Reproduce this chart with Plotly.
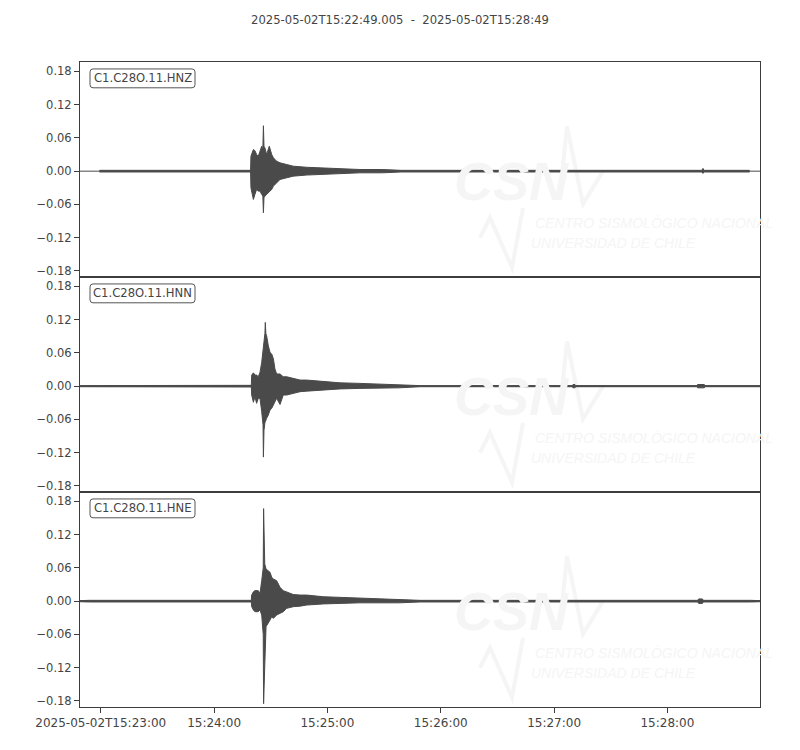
import pandas as pd
import plotly.graph_objects as go

# ---------------- data (envelopes) ----------------
START = "2025-05-02 15:22:49.005"
END = "2025-05-02 15:28:49"
title_text = "2025-05-02T15:22:49.005  -  2025-05-02T15:28:49"
channels = ["C1.C28O.11.HNZ", "C1.C28O.11.HNN", "C1.C28O.11.HNE"]

# seconds after START, upper / lower envelope of ground acceleration
t_hnz = [10.3, 90.3, 90.5, 91.8, 92.6, 93.5, 94.4, 95.3, 96.2, 96.8, 97.1, 97.4, 97.9, 98.8,
         100.2, 101.5, 102.4, 104.1, 105.9, 109.4, 112.9, 120.0, 128.8, 137.6, 148.2, 160.0,
         170.0, 329.3, 329.8, 330.3, 354.5]
up_hnz = [0.0015, 0.0015, 0.027, 0.039, 0.037, 0.030, 0.027, 0.036, 0.045, 0.040, 0.082, 0.045, 0.042, 0.030,
          0.045, 0.030, 0.024, 0.018, 0.015, 0.012, 0.009, 0.007, 0.006, 0.004, 0.003, 0.003,
          0.0015, 0.0015, 0.005, 0.0015, 0.0015]
lo_hnz = [-0.0015, -0.0015, -0.030, -0.051, -0.042, -0.033, -0.036, -0.036, -0.042, -0.045, -0.075, -0.048, -0.045, -0.042,
          -0.039, -0.033, -0.027, -0.021, -0.015, -0.012, -0.009, -0.007, -0.006, -0.004, -0.003, -0.003,
          -0.0015, -0.0015, -0.004, -0.0015, -0.0015]

t_hnn = [0.0, 90.7, 90.9, 91.8, 92.6, 93.5, 94.4, 95.3, 96.2, 96.9, 97.1, 97.4, 97.9, 98.1, 98.4, 98.8,
         99.7, 100.6, 101.5, 102.4, 103.2, 104.1, 105.9, 107.6, 109.4, 112.9, 116.5, 120.0,
         128.8, 137.6, 148.2, 169.0, 180.0, 260.5, 261.0, 262.0, 262.5, 326.5, 327.0, 330.5, 331.0, 360.0]
up_hnn = [0.001, 0.0015, 0.020, 0.024, 0.020, 0.020, 0.017, 0.025, 0.043, 0.060, 0.067, 0.080, 0.095, 0.115, 0.095, 0.091,
          0.073, 0.061, 0.058, 0.049, 0.031, 0.022, 0.022, 0.017, 0.017, 0.014, 0.011, 0.011,
          0.008, 0.006, 0.005, 0.003, 0.001, 0.001, 0.003, 0.003, 0.001, 0.001, 0.003, 0.003, 0.001, 0.001]
lo_hnn = [-0.001, -0.0015, -0.016, -0.029, -0.019, -0.031, -0.022, -0.022, -0.046, -0.070, -0.128, -0.080, -0.066, -0.064, -0.060, -0.058,
          -0.052, -0.043, -0.040, -0.034, -0.028, -0.022, -0.033, -0.016, -0.016, -0.013, -0.010, -0.009,
          -0.007, -0.005, -0.004, -0.003, -0.001, -0.001, -0.003, -0.003, -0.001, -0.001, -0.003, -0.003, -0.001, -0.001]

t_hne = [0.0, 5.0, 90.7, 90.9, 91.8, 92.6, 94.4, 95.3, 96.2, 96.7, 97.0, 97.2, 97.5, 97.8, 98.5,
         99.7, 100.6, 101.5, 102.4, 104.1, 105.9, 107.6, 109.4, 112.9, 116.5, 120.0,
         128.8, 137.6, 148.2, 169.0, 180.0, 327.0, 327.5, 329.5, 330.0, 355.0, 360.0]
up_hne = [0.001, 0.0015, 0.0015, 0.011, 0.017, 0.019, 0.019, 0.014, 0.037, 0.049, 0.060, 0.167, 0.090, 0.067, 0.058,
          0.055, 0.052, 0.043, 0.040, 0.037, 0.025, 0.019, 0.017, 0.012, 0.011, 0.011,
          0.008, 0.007, 0.006, 0.003, 0.0015, 0.0015, 0.004, 0.004, 0.0015, 0.0015, 0.001]
lo_hne = [-0.001, -0.0015, -0.0015, -0.010, -0.016, -0.019, -0.019, -0.016, -0.025, -0.040, -0.060, -0.185, -0.130, -0.117, -0.046,
          -0.040, -0.034, -0.028, -0.031, -0.025, -0.022, -0.019, -0.013, -0.010, -0.009, -0.007,
          -0.005, -0.004, -0.003, -0.003, -0.0015, -0.0015, -0.004, -0.004, -0.0015, -0.0015, -0.001]

ytick_vals = [-0.18, -0.12, -0.06, 0.0, 0.06, 0.12, 0.18]
ytick_text = ["\u22120.18", "\u22120.12", "\u22120.06", "0.00", "0.06", "0.12", "0.18"]
xtick_times = ["2025-05-02 15:23:00", "2025-05-02 15:24:00", "2025-05-02 15:25:00",
               "2025-05-02 15:26:00", "2025-05-02 15:27:00", "2025-05-02 15:28:00"]
xtick_text = ["2025-05-02T15:23:00", "15:24:00", "15:25:00", "15:26:00", "15:27:00", "15:28:00"]

# ---------------- figure ----------------
# page has an 8px body margin; the figure is placed at (8, 8)
OFF = 8
W, H = 784, 734
ML, MT = 72, 54
PW, PH = 680, 650
MR, MB = W - ML - PW, H - MT - PH
TRACE = "#4a4a4a"
AX = "#3d3d3d"
FONT = "DejaVu Sans"
TXT = "#444444"
start = pd.Timestamp(START)

# helpers: convert page pixels (as in the reference) to paper coords
def px2x(px):
    return (px - OFF - ML) / PW

def px2y(py):
    return (OFF + MT + PH - py) / PH

series = [(t_hnz, up_hnz, lo_hnz), (t_hnn, up_hnn, lo_hnn), (t_hne, up_hne, lo_hne)]
fig = go.Figure()
shapes = []
annotations = []
panel_h = PH / 3.0
TOP = OFF + MT

for i, (tt, up, lo) in enumerate(series):
    ax = "" if i == 0 else str(i + 1)
    xs = start + pd.to_timedelta(tt, unit="s")
    fig.add_trace(go.Scatter(x=[start, pd.Timestamp(END)], y=[0, 0], mode="lines",
                             line=dict(color=TRACE, width=1), xaxis="x" + ax, yaxis="y" + ax,
                             hoverinfo="skip", showlegend=False))
    fig.add_trace(go.Scatter(x=xs, y=up, mode="lines", line=dict(color=TRACE, width=1),
                             xaxis="x" + ax, yaxis="y" + ax, showlegend=False))
    fig.add_trace(go.Scatter(x=xs, y=lo, mode="lines", line=dict(color=TRACE, width=1),
                             fill="tonexty", fillcolor=TRACE,
                             xaxis="x" + ax, yaxis="y" + ax, showlegend=False))

    top_px = TOP + i * panel_h
    # faint watermark
    wm = "#f5f5f5"
    annotations.append(dict(text="<b><i>CSN</i></b>", x=px2x(452), y=px2y(top_px + 120),
                            xref="paper", yref="paper", xanchor="left", yanchor="middle",
                            showarrow=False, font=dict(family="Liberation Sans", size=54, color=wm)))
    annotations.append(dict(text="<i>CENTRO SISMOLÓGICO NACIONAL</i>", x=px2x(533), y=px2y(top_px + 162),
                            xref="paper", yref="paper", xanchor="left", yanchor="middle",
                            showarrow=False, font=dict(family="Liberation Sans", size=14, color=wm)))
    annotations.append(dict(text="<i>UNIVERSIDAD DE CHILE</i>", x=px2x(529), y=px2y(top_px + 182),
                            xref="paper", yref="paper", xanchor="left", yanchor="middle",
                            showarrow=False, font=dict(family="Liberation Sans", size=14, color=wm)))
    for pts in ([(560, 133), (567, 65), (583, 143), (603, 110)],
                [(480, 177), (490, 157), (512, 207), (523, 147)]):
        path = "M " + " L ".join(f"{px2x(a)},{px2y(top_px + b)}" for a, b in pts)
        shapes.append(dict(type="path", path=path, xref="paper", yref="paper",
                           line=dict(color=wm, width=4), layer="below"))

    # rounded label box
    x0, x1 = px2x(90), px2x(195)
    y0, y1 = px2y(top_px + 26), px2y(top_px + 7)
    rx, ry = 3.0 / PW, 3.0 / PH
    path = (f"M {x0+rx},{y1} L {x1-rx},{y1} Q {x1},{y1} {x1},{y1-ry} L {x1},{y0+ry} "
            f"Q {x1},{y0} {x1-rx},{y0} L {x0+rx},{y0} Q {x0},{y0} {x0},{y0+ry} "
            f"L {x0},{y1-ry} Q {x0},{y1} {x0+rx},{y1} Z")
    shapes.append(dict(type="path", path=path, xref="paper", yref="paper",
                       line=dict(color="#555555", width=1), fillcolor="white"))
    annotations.append(dict(text=channels[i], x=(x0 + x1) / 2, y=(y0 + y1) / 2,
                            xref="paper", yref="paper", xanchor="center", yanchor="middle",
                            showarrow=False, font=dict(family=FONT, size=11.6, color=TXT)))

layout = dict(
    width=W, height=H, plot_bgcolor="white", paper_bgcolor="white",
    margin=dict(l=ML, r=MR, t=MT, b=MB),
    font=dict(family=FONT, size=11.5, color=TXT),
    title=dict(text=title_text, x=(400 - OFF) / W, xref="container", xanchor="center",
               y=1 - (20 - OFF) / H, yref="container", yanchor="middle",
               font=dict(family=FONT, size=11.6, color=TXT)),
    shapes=shapes, annotations=annotations, showlegend=False,
)

for i in range(3):
    ax = "" if i == 0 else str(i + 1)
    d0 = 1 - (i + 1) / 3.0
    d1 = 1 - i / 3.0
    layout["xaxis" + ax] = dict(
        type="date", range=[START, END], domain=[0, 1], anchor="y" + ax,
        showline=True, mirror=True, linecolor=AX, linewidth=1, showgrid=False, zeroline=False,
        tickvals=xtick_times, ticktext=xtick_text,
        ticks="outside" if i == 2 else "", ticklen=5, tickcolor=AX,
        showticklabels=(i == 2), tickfont=dict(family=FONT, size=12, color=TXT),
        matches=None if i == 0 else "x",
    )
    layout["yaxis" + ax] = dict(
        range=[-0.191, 0.197], domain=[d0, d1], anchor="x" + ax,
        showline=True, mirror=True, linecolor=AX, linewidth=1, showgrid=False, zeroline=False,
        tickvals=ytick_vals, ticktext=ytick_text, ticks="outside", ticklen=5, tickcolor=AX,
        tickfont=dict(family=FONT, size=11.5, color=TXT),
    )

fig.update_layout(**layout)
fig.write_html("out.html")
